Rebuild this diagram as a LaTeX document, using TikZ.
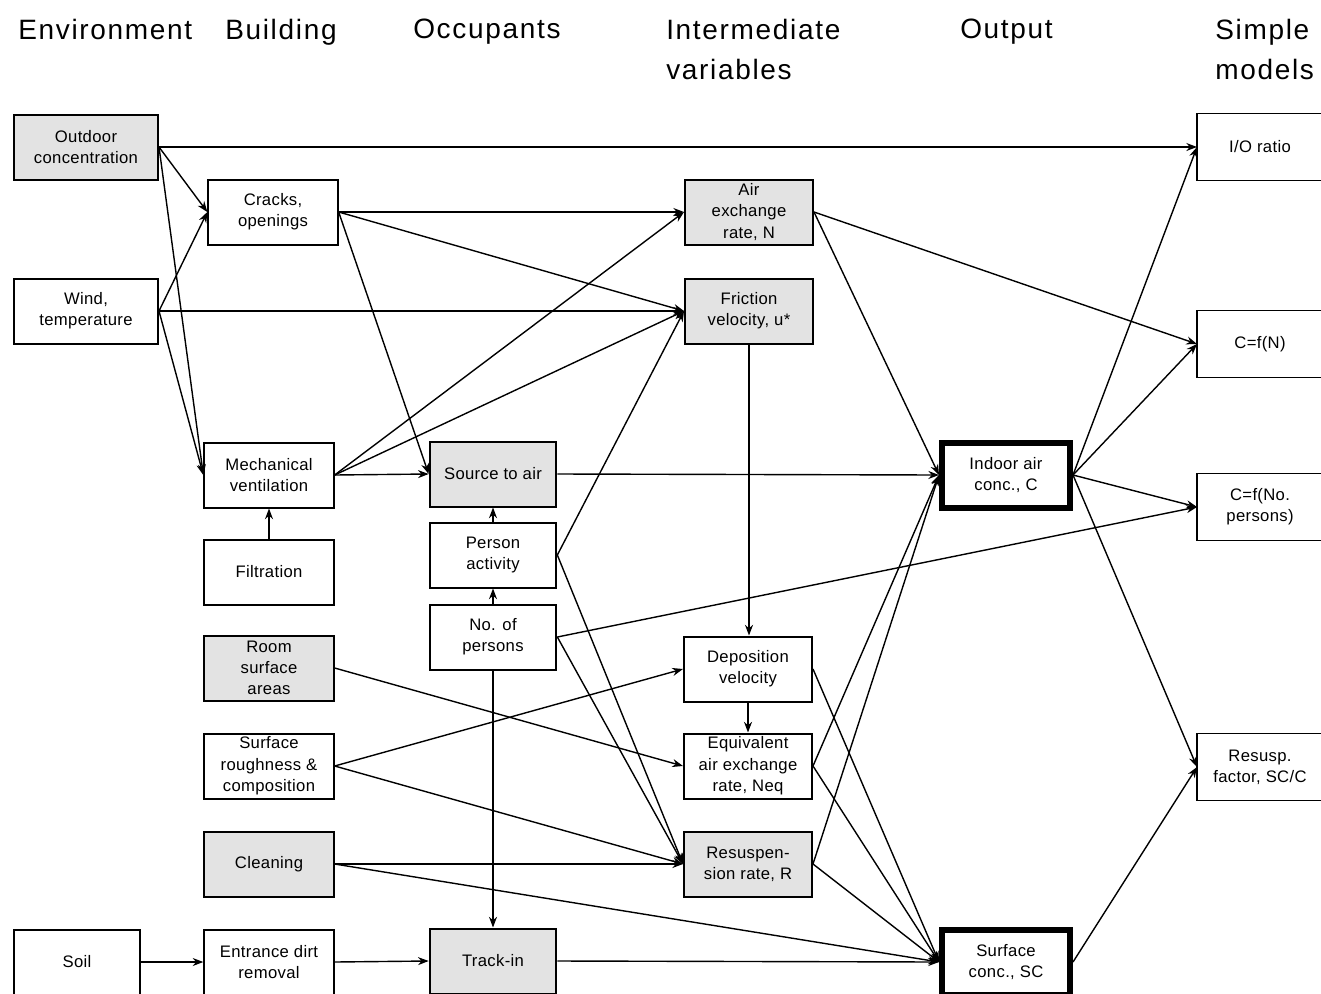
\documentclass[tikz,border=0pt]{standalone}
\usepackage{fontspec}
\setmainfont{Liberation Sans}[LetterSpace=2]
\newfontfamily\headfont{Liberation Sans}[LetterSpace=6]
\usetikzlibrary{arrows.meta}

\begin{document}
\begin{tikzpicture}[
        x=0.75pt, y=-0.75pt,
        box/.style={draw, line width=1.5pt, minimum width=97pt, minimum height=48.75pt,
            inner sep=1pt, align=center, font=\fontsize{12.5}{16}\selectfont},
        shaded/.style={box, fill=gray!22},
        result/.style={box, line width=4.5pt, minimum width=96pt, minimum height=48.75pt},
        model/.style={box, draw=none, minimum width=93pt},
        head/.style={anchor=north west, inner sep=0pt, align=left,
            font=\headfont\fontsize{21}{30}\selectfont},
        arr/.style={-{Stealth[length=8pt,width=6pt]}, line width=1.05pt}
        ]
        \path[use as bounding box, fill=white] (0,0) rectangle (1321,993);

        % column headings
        \node [head] (h1) at (18,19) {Environment};
        \node [head] (h2) at (225,19) {Building};
        \node [head] (h3) at (413,19) {Occupants};
        \node [head] (h4) at (666,19) {Intermediate\\variables};
        \node [head] (h5) at (960,19) {Output};
        \node [head] (h6) at (1215,19) {Simple\\models};

        % environment
        \node [shaded, minimum width=108pt] (out) at (86,147) {Outdoor\\concentration};
        \node [box, minimum width=108pt] (wind) at (86,311) {Wind,\\temperature};
        \node [box, minimum width=95pt] (soil) at (77,962) {Soil};

        % building
        \node [box] (cracks) at (273,212) {Cracks,\\openings};
        \node [box] (mech) at (269,475) {Mechanical\\ventilation};
        \node [box] (filt) at (269,572) {Filtration};
        \node [shaded] (room) at (269,668) {Room\\surface\\areas};
        \node [box] (rough) at (269,766) {Surface\\roughness \&\\composition};
        \node [shaded] (clean) at (269,864) {Cleaning};
        \node [box] (dirt) at (269,962) {Entrance dirt\\removal};

        % occupants
        \node [shaded, minimum width=95pt] (src) at (493,474) {Source to air};
        \node [box, minimum width=95pt] (act) at (493,555) {Person\\activity};
        \node [box, minimum width=95pt] (nop) at (493,637) {No. of\\persons};
        \node [shaded, minimum width=95pt] (track) at (493,961) {Track-in};

        % intermediate variables
        \node [shaded, minimum width=96pt] (aer) at (749,212) {Air\\exchange\\rate, N};
        \node [shaded, minimum width=96pt] (fric) at (749,311) {Friction\\velocity, u*};
        \node [box, minimum width=96pt] (dep) at (748,669) {Deposition\\velocity};
        \node [box, minimum width=96pt] (eq) at (748,766) {Equivalent\\air exchange\\rate, Neq};
        \node [shaded, minimum width=96pt] (res) at (748,864) {Resuspen-\\sion rate, R};

        % output
        \node [result] (iac) at (1006,475) {Indoor air\\conc., C};
        \node [result] (sc) at (1006,962) {Surface\\conc., SC};

        % simple models
        \node [model] (io) at (1260,147) {I/O ratio};
        \node [model] (cn) at (1260,344) {C=f(N)};
        \node [model] (cp) at (1260,507) {C=f(No.\\persons)};
        \node [model] (rf) at (1260,767) {Resusp.\\factor, SC/C};
        \foreach \m in {io,cn,cp,rf}
            \draw [line width=1.3pt] (\m.north east) -- (\m.north west) -- (\m.south west) -- (\m.south east);

        % links
        \draw [arr] (out.east) -- (io.west);
        \draw [arr] (out.east) -- (cracks.west);
        \draw [arr] (out.east) -- (mech.west);
        \draw [arr] (wind.east) -- (cracks.west);
        \draw [arr] (wind.east) -- (fric.west);
        \draw [arr] (wind.east) -- (mech.west);
        \draw [arr] (cracks.east) -- (aer.west);
        \draw [arr] (cracks.east) -- (fric.west);
        \draw [arr] (cracks.east) -- (src.west);
        \draw [arr] (mech.east) -- (aer.west);
        \draw [arr] (mech.east) -- (fric.west);
        \draw [arr] (mech.east) -- (src.west);
        \draw [arr] (filt.north) -- (mech.south);
        \draw [arr] (src.east) -- (iac.west);
        \draw [arr] (act.north) -- (src.south);
        \draw [arr] (nop.north) -- (act.south);
        \draw [arr] (act.east) -- (fric.west);
        \draw [arr] (act.east) -- (res.west);
        \draw [arr] (nop.east) -- (res.west);
        \draw [arr] (nop.east) -- (cp.west);
        \draw [arr] (nop.south) -- (track.north);
        \draw [arr] (fric.south) -- (fric.south |- dep.north);
        \draw [arr] (dep.south) -- (eq.north);
        \draw [arr] (room.east) -- (eq.west);
        \draw [arr] (rough.east) -- (dep.west);
        \draw [arr] (rough.east) -- (res.west);
        \draw [arr] (clean.east) -- (res.west);
        \draw [arr] (clean.east) -- (sc.west);
        \draw [arr] (soil.east) -- (dirt.west);
        \draw [arr] (dirt.east) -- (track.west);
        \draw [arr] (track.east) -- (sc.west);
        \draw [arr] (aer.east) -- (iac.west);
        \draw [arr] (aer.east) -- (cn.west);
        \draw [arr] (iac.east) -- (io.west);
        \draw [arr] (iac.east) -- (cn.west);
        \draw [arr] (iac.east) -- (cp.west);
        \draw [arr] (iac.east) -- (rf.west);
        \draw [arr] (dep.east) -- (sc.west);
        \draw [arr] (eq.east) -- (iac.west);
        \draw [arr] (eq.east) -- (sc.west);
        \draw [arr] (res.east) -- (iac.west);
        \draw [arr] (res.east) -- (sc.west);
        \draw [arr] (sc.east) -- (rf.west);
    \end{tikzpicture}
\end{document}
